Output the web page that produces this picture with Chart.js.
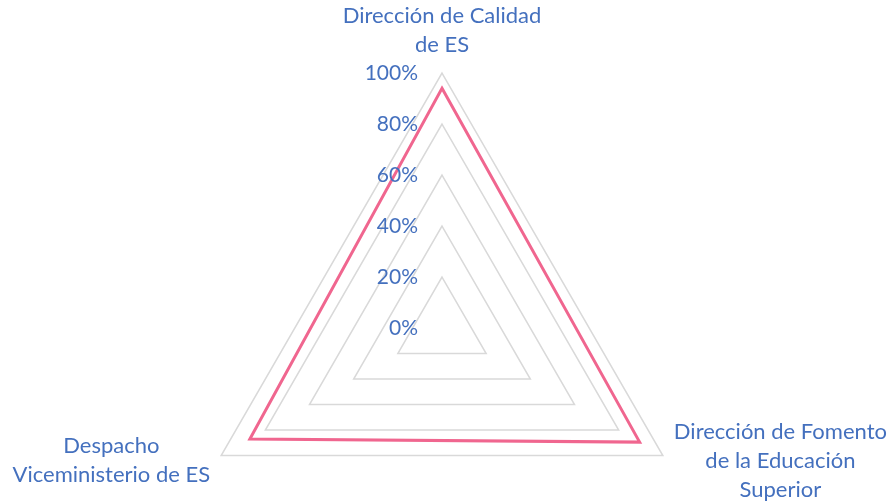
<!DOCTYPE html>
<html>
<head>
<meta charset="utf-8">
<script src="https://cdn.jsdelivr.net/npm/chart.js@4/dist/chart.umd.min.js"></script>
<style>
  html, body { margin: 0; padding: 0; background: #ffffff; overflow: hidden; }
  #wrap { position: relative; width: 892px; height: 600px; }
</style>
</head>
<body>
<div id="wrap"><canvas id="c"></canvas></div>
<script>
const categories = [
  ["Dirección de Calidad", "de ES"],
  ["Dirección de Fomento", "de la Educación", "Superior"],
  ["Despacho", "Viceministerio de ES"]
];
const seriesValues = [0.94, 0.895, 0.87];
const tickValues = [0, 0.2, 0.4, 0.6, 0.8, 1.0];
const tickLabels = ["0%", "20%", "40%", "60%", "80%", "100%"];

const TEXT_COLOR = "#4470BE";
const FONT = "22px Lato, 'Open Sans', sans-serif";
const TICK_FONT = "21px Lato, 'Open Sans', sans-serif";
const LINE_H = 29;

const labelPlugin = {
  id: "excelLabels",
  afterDraw(chart) {
    const s = chart.scales.r;
    const ctx = chart.ctx;
    ctx.save();
    ctx.fillStyle = TEXT_COLOR;
    ctx.textBaseline = "middle";
    // tick labels
    ctx.font = TICK_FONT;
    ctx.textAlign = "right";
    tickValues.forEach((v, i) => {
      const y = s.yCenter - s.getDistanceFromCenterForValue(v);
      ctx.fillText(tickLabels[i], s.xCenter - 24, y);
    });
    // category labels
    ctx.font = FONT;
    ctx.textAlign = "center";
    categories.forEach((lines, i) => {
      const p = s.getPointPosition(i, s.drawingArea);
      const widths = lines.map(t => ctx.measureText(t).width);
      const bw = Math.max(...widths);
      const bh = lines.length * LINE_H;
      let cx, top;
      if (Math.abs(p.x - s.xCenter) < 2) {
        cx = p.x;
        top = p.y - 14 - bh;
      } else if (p.x > s.xCenter) {
        cx = p.x + 11 + bw / 2;
        top = p.y + 5 - bh / 2;
      } else {
        cx = p.x - 11 - bw / 2;
        top = p.y + 5 - bh / 2;
      }
      lines.forEach((t, k) => {
        ctx.fillText(t, cx, top + LINE_H / 2 + k * LINE_H);
      });
    });
    ctx.restore();
  }
};

new Chart(document.getElementById("c"), {
  type: "radar",
  data: {
    labels: categories,
    datasets: [{
      data: seriesValues,
      borderColor: "#F0668F",
      borderWidth: 3,
      fill: false,
      pointRadius: 0,
      pointHoverRadius: 0,
      tension: 0
    }]
  },
  options: {
    responsive: true,
    maintainAspectRatio: false,
    animation: false,
    layout: { padding: { top: 73, bottom: 17, left: 187, right: 195 } },
    plugins: { legend: { display: false }, tooltip: { enabled: false } },
    scales: {
      r: {
        min: 0,
        max: 1,
        ticks: { stepSize: 0.2, display: false },
        grid: { circular: false, color: "#D9D9D9", lineWidth: 1.5 },
        angleLines: { display: false },
        pointLabels: { display: false }
      }
    }
  },
  plugins: [labelPlugin]
});
</script>
</body>
</html>
